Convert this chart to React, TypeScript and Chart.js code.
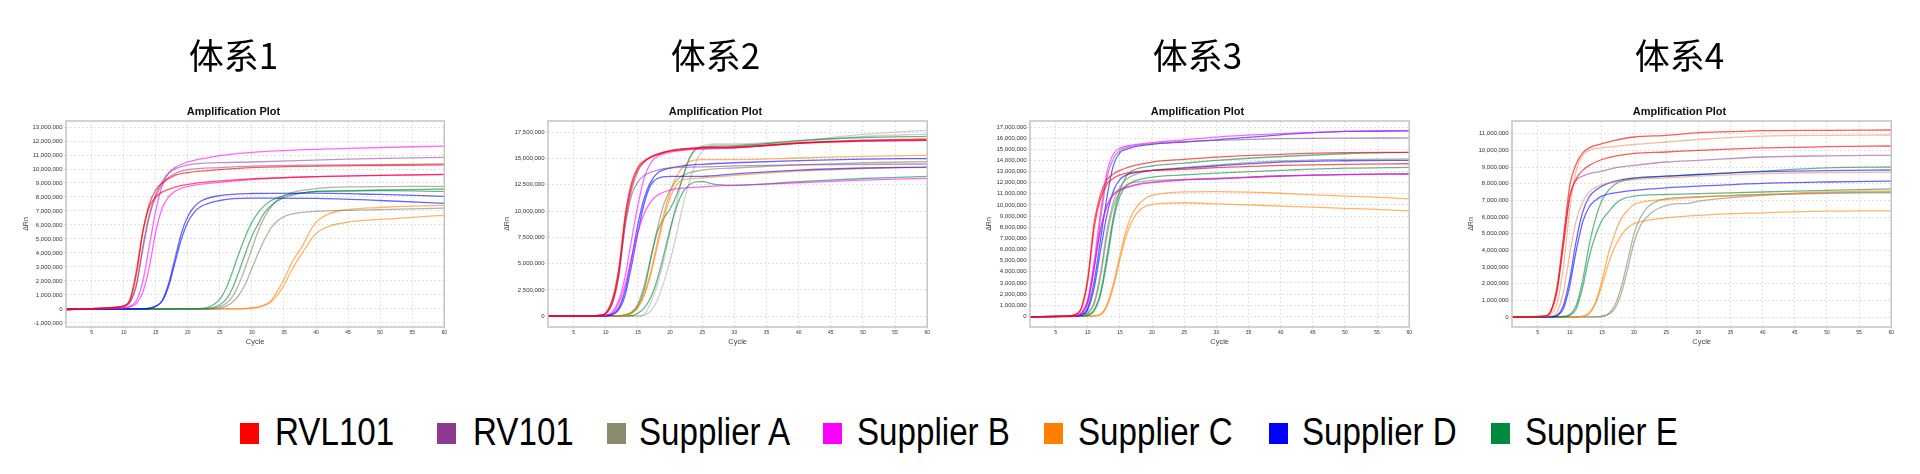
import React, { useEffect, useRef } from 'react';
import Chart from 'chart.js/auto';

type Curve = { s: number; c?: string; p: number[][] };

const titles = ['体系1', '体系2', '体系3', '体系4'];
const suppliers = ['RVL101', 'RV101', 'Supplier A', 'Supplier B', 'Supplier C', 'Supplier D', 'Supplier E'];
const swatches = ['#ff0000', '#8e3a8e', '#8a8a6c', '#ff00ff', '#ff8000', '#0000ff', '#008a40'];
const lineColors = [
  'rgba(255,0,0,0.65)',
  'rgba(140,60,140,0.55)',
  'rgba(130,130,105,0.6)',
  'rgba(255,0,255,0.6)',
  'rgba(255,130,0,0.6)',
  'rgba(0,0,255,0.6)',
  'rgba(0,136,64,0.6)',
];
const lightGray = 'rgba(150,150,150,0.45)';
const salmon = 'rgba(240,120,70,0.5)';

// y axis ranges, millions of ΔRn
const yMin = [-1.29, -1.02, -0.96, -0.6];
const yMax = [13.43, 18.57, 17.54, 11.76];
const yStep = [1, 2.5, 1, 1];

// curves: [cycle, ΔRn in millions]
const sys1: Curve[] = [
  { s: 0, p: [[1, -0.06], [5, 0.02], [8, 0.1], [10, 0.22], [11, 0.65], [12, 2.5], [13, 5.5], [14, 7.5], [15, 8.5], [16, 9.0], [18, 9.55], [20, 9.75], [25, 9.95], [30, 10.1], [40, 10.2], [50, 10.25], [60, 10.3]] },
  { s: 0, p: [[1, -0.06], [5, 0.02], [8, 0.1], [10, 0.22], [11, 0.7], [12, 2.8], [13, 5.6], [14, 7.3], [15, 8.0], [16, 8.35], [18, 8.7], [20, 8.9], [25, 9.15], [30, 9.3], [40, 9.45], [50, 9.55], [60, 9.62]] },
  { s: 1, p: [[1, -0.05], [5, 0.02], [8, 0.08], [10, 0.18], [11, 0.5], [12, 1.8], [13, 4.5], [14, 6.8], [15, 8.2], [16, 9.1], [17, 9.7], [20, 10.3], [25, 10.45], [30, 10.5], [45, 10.7], [60, 10.83]] },
  { s: 1, p: [[1, -0.05], [5, 0.02], [8, 0.08], [10, 0.18], [11, 0.5], [12, 1.7], [13, 4.3], [14, 6.6], [15, 8.0], [16, 8.9], [17, 9.4], [20, 9.95], [25, 10.1], [30, 10.2], [40, 10.28], [60, 10.36]] },
  { s: 3, p: [[1, -0.04], [8, 0.05], [10, 0.1], [11, 0.2], [12, 0.6], [13, 2.0], [14, 4.5], [15, 7.0], [16, 8.8], [17, 9.7], [18, 10.1], [20, 10.5], [25, 10.95], [30, 11.19], [45, 11.48], [60, 11.64]] },
  { s: 3, p: [[1, -0.04], [8, 0.04], [10, 0.08], [11, 0.15], [12, 0.4], [13, 1.2], [14, 3.0], [15, 5.5], [16, 7.2], [17, 8.0], [18, 8.4], [20, 8.75], [25, 9.05], [30, 9.25], [40, 9.45], [60, 9.6]] },
  { s: 5, p: [[1, -0.02], [13, 0.0], [14, 0.05], [15, 0.2], [16, 0.6], [17, 1.8], [18, 3.6], [19, 5.4], [20, 6.6], [21, 7.3], [22, 7.7], [25, 8.1], [30, 8.25], [40, 8.28], [50, 8.18], [60, 8.05]] },
  { s: 5, p: [[1, -0.02], [13, 0.0], [14, 0.05], [15, 0.18], [16, 0.55], [17, 1.6], [18, 3.3], [19, 5.0], [20, 6.2], [21, 6.9], [22, 7.3], [25, 7.75], [30, 7.92], [40, 7.9], [50, 7.75], [60, 7.55]] },
  { s: 6, p: [[1, -0.02], [20, 0.0], [22, 0.03], [23, 0.1], [24, 0.3], [25, 0.7], [26, 1.5], [27, 2.7], [28, 4.0], [29, 5.2], [30, 6.2], [31, 6.9], [32, 7.4], [33, 7.75], [35, 8.1], [38, 8.3], [40, 8.4], [45, 8.45], [50, 8.5], [60, 8.57]] },
  { s: 6, p: [[1, -0.02], [21, 0.0], [23, 0.03], [24, 0.1], [25, 0.3], [26, 0.7], [27, 1.5], [28, 2.7], [29, 4.0], [30, 5.2], [31, 6.1], [32, 6.9], [33, 7.4], [35, 7.95], [38, 8.3], [40, 8.4], [45, 8.42], [50, 8.45], [60, 8.4]] },
  { s: 2, p: [[1, -0.02], [22, 0.0], [24, 0.05], [25, 0.15], [26, 0.4], [27, 0.9], [28, 1.8], [29, 3.0], [30, 4.3], [31, 5.6], [32, 6.6], [33, 7.3], [34, 7.8], [35, 8.1], [37, 8.4], [40, 8.6], [45, 8.72], [60, 8.76]] },
  { s: 2, p: [[1, -0.02], [23, 0.0], [25, 0.05], [26, 0.2], [27, 0.5], [28, 1.0], [29, 1.8], [30, 2.9], [31, 4.0], [32, 5.0], [33, 5.8], [34, 6.3], [35, 6.6], [37, 6.85], [40, 6.97], [45, 7.05], [50, 7.1], [60, 7.21]] },
  { s: 4, p: [[1, -0.02], [28, 0.0], [30, 0.08], [31, 0.15], [32, 0.3], [33, 0.6], [34, 1.3], [35, 2.1], [36, 3.1], [37, 3.9], [38, 4.6], [39, 5.5], [40, 6.2], [42, 6.8], [45, 7.1], [50, 7.25], [55, 7.35], [60, 7.4]] },
  { s: 4, p: [[1, -0.02], [28, 0.0], [30, 0.06], [31, 0.12], [32, 0.25], [33, 0.5], [34, 1.0], [35, 1.7], [36, 2.6], [37, 3.4], [38, 4.1], [39, 4.8], [40, 5.4], [42, 5.9], [45, 6.2], [50, 6.4], [55, 6.55], [60, 6.69]] },
];

const sys2: Curve[] = [
  { s: 0, p: [[1, 0], [8, 0.02], [9, 0.1], [10, 0.35], [11, 1.6], [12, 4.5], [13, 9.6], [14, 12.7], [15, 14.2], [16, 14.8], [17, 15.15], [18, 15.4], [20, 15.75], [25, 16.05], [30, 16.1], [40, 16.5], [50, 16.75], [60, 16.86]] },
  { s: 0, p: [[1, 0], [8, 0.02], [9, 0.08], [10, 0.3], [11, 1.4], [12, 4.2], [13, 9.2], [14, 12.4], [15, 14.0], [16, 14.7], [17, 15.1], [18, 15.35], [20, 15.7], [25, 16.0], [30, 16.05], [40, 16.45], [50, 16.7], [60, 16.76]] },
  { s: 1, p: [[1, 0], [8, 0.02], [9, 0.08], [10, 0.25], [11, 1.2], [12, 3.8], [13, 8.5], [14, 11.5], [15, 12.8], [16, 13.4], [17, 13.7], [18, 13.9], [20, 14.1], [25, 14.2], [30, 14.3], [40, 14.4], [60, 14.48]] },
  { s: 1, p: [[1, 0], [8, 0.02], [9, 0.08], [10, 0.25], [11, 1.2], [12, 3.8], [13, 8.8], [14, 12.0], [15, 13.8], [16, 14.7], [17, 15.2], [18, 15.45], [20, 15.75], [25, 16.0], [30, 16.05], [40, 16.45], [50, 16.65], [60, 16.73]] },
  { s: 3, p: [[1, 0], [9, 0.03], [10, 0.1], [11, 0.4], [12, 1.5], [13, 3.8], [14, 7.3], [15, 10.6], [16, 13.2], [17, 14.6], [18, 15.2], [20, 15.6], [25, 15.9], [30, 16.0], [40, 16.45], [50, 16.65], [60, 16.73]] },
  { s: 3, p: [[1, 0], [9, 0.03], [10, 0.1], [11, 0.3], [12, 1.2], [13, 3.0], [14, 5.6], [15, 8.0], [16, 9.8], [17, 10.9], [18, 11.5], [20, 12.0], [25, 12.3], [30, 12.45], [40, 12.7], [50, 12.95], [60, 13.11]] },
  { s: 5, p: [[1, 0], [10, 0.05], [11, 0.2], [12, 0.8], [13, 2.5], [14, 5.5], [15, 8.8], [16, 11.3], [17, 12.8], [18, 13.6], [20, 14.1], [22, 14.3], [25, 14.45], [30, 14.6], [40, 14.8], [50, 14.95], [60, 15.0]] },
  { s: 5, p: [[1, 0], [10, 0.04], [11, 0.15], [12, 0.6], [13, 2.0], [14, 4.8], [15, 8.0], [16, 10.8], [17, 12.5], [18, 13.1], [20, 13.3], [25, 13.3], [30, 13.55], [40, 13.9], [50, 14.1], [60, 14.19]] },
  { s: 4, p: [[1, 0], [12, 0.05], [13, 0.1], [14, 0.3], [15, 0.9], [16, 2.2], [17, 4.3], [18, 7.0], [19, 9.7], [20, 11.8], [21, 13.3], [22, 14.2], [23, 14.7], [25, 14.9], [30, 14.9], [40, 15.05], [50, 15.2], [60, 15.3]] },
  { s: 4, p: [[1, 0], [12, 0.04], [13, 0.08], [14, 0.25], [15, 0.8], [16, 2.0], [17, 4.0], [18, 6.6], [19, 9.2], [20, 11.3], [21, 12.5], [22, 13.0], [25, 13.15], [30, 13.4], [40, 13.8], [50, 14.05], [60, 14.16]] },
  { s: 6, p: [[1, 0], [12, 0.03], [13, 0.1], [14, 0.35], [15, 1.0], [16, 2.6], [17, 5.5], [18, 8.0], [19, 9.3], [20, 10.2], [21, 11.5], [22, 13.3], [23, 15.0], [24, 15.9], [25, 16.1], [30, 16.2], [40, 16.7], [50, 17.0], [60, 17.11]] },
  { s: 6, p: [[1, 0], [14, 0.05], [15, 0.3], [16, 0.8], [17, 1.8], [18, 3.5], [19, 5.8], [20, 8.3], [21, 10.4], [22, 11.8], [23, 12.5], [24, 12.78], [25, 12.8], [27, 12.55], [30, 12.45], [35, 12.6], [40, 12.8], [50, 13.1], [60, 13.3]] },
  { s: 2, c: lightGray, p: [[1, 0], [15, 0.03], [16, 0.2], [17, 1.3], [18, 3.0], [19, 5.3], [20, 8.0], [21, 10.8], [22, 13.2], [23, 15.0], [24, 15.9], [25, 16.2], [27, 16.4], [30, 16.4], [40, 16.7], [50, 17.3], [60, 17.68]] },
  { s: 2, c: lightGray, p: [[1, 0], [15, 0.02], [16, 0.1], [17, 0.5], [18, 1.5], [19, 3.2], [20, 5.3], [21, 7.8], [22, 10.5], [23, 12.8], [24, 14.6], [25, 15.7], [27, 16.3], [30, 16.3], [40, 16.6], [50, 17.1], [60, 17.33]] },
  { s: 2, p: [[1, 0], [12, 0.05], [13, 0.15], [14, 0.4], [15, 1.2], [16, 3.0], [17, 5.6], [18, 8.3], [19, 10.6], [20, 12.0], [21, 12.9], [22, 13.4], [25, 13.9], [30, 14.1], [40, 14.4], [50, 14.6], [60, 14.7]] },
];

const sys3: Curve[] = [
  { s: 0, p: [[1, -0.05], [6, 0], [7, 0.02], [8, 0.15], [9, 0.8], [10, 3.5], [11, 8.5], [12, 11.0], [13, 12.3], [14, 12.8], [15, 13.1], [17, 13.5], [20, 13.85], [25, 14.1], [30, 14.3], [40, 14.55], [50, 14.7], [60, 14.73]] },
  { s: 0, p: [[1, -0.05], [6, 0], [7, 0.02], [8, 0.15], [9, 0.7], [10, 3.2], [11, 8.0], [12, 10.6], [13, 11.9], [14, 12.4], [15, 12.7], [17, 12.95], [20, 13.1], [25, 13.2], [30, 13.35], [40, 13.55], [50, 13.65], [60, 13.7]] },
  { s: 3, p: [[1, -0.05], [6, 0], [8, 0.05], [9, 0.3], [10, 1.5], [11, 5.0], [12, 9.5], [13, 13.0], [14, 14.6], [15, 15.1], [17, 15.4], [20, 15.6], [25, 15.85], [30, 16.1], [40, 16.4], [50, 16.6], [60, 16.68]] },
  { s: 3, p: [[1, -0.05], [6, 0], [8, 0.05], [9, 0.3], [10, 1.4], [11, 4.5], [12, 7.8], [13, 9.9], [14, 10.9], [15, 11.3], [16, 11.55], [18, 11.85], [20, 12.0], [25, 12.25], [30, 12.35], [40, 12.6], [50, 12.72], [60, 12.78]] },
  { s: 1, p: [[1, -0.05], [6, 0], [8, 0.05], [9, 0.25], [10, 1.2], [11, 4.3], [12, 8.8], [13, 12.5], [14, 14.2], [15, 14.9], [17, 15.3], [20, 15.5], [25, 15.7], [30, 15.8], [40, 15.95], [50, 16.0], [60, 16.02]] },
  { s: 1, p: [[1, -0.05], [6, 0], [8, 0.05], [9, 0.3], [10, 1.4], [11, 4.5], [12, 7.9], [13, 10.0], [14, 11.0], [15, 11.4], [16, 11.6], [18, 11.9], [20, 12.05], [25, 12.25], [30, 12.35], [40, 12.6], [50, 12.72], [60, 12.78]] },
  { s: 5, p: [[1, -0.05], [6, 0], [8, 0.03], [9, 0.15], [10, 0.8], [11, 3.2], [12, 7.0], [13, 10.8], [14, 13.6], [15, 14.7], [16, 15.0], [18, 15.3], [20, 15.45], [25, 15.65], [30, 15.85], [40, 16.3], [50, 16.6], [60, 16.65]] },
  { s: 5, p: [[1, -0.05], [6, 0], [8, 0.02], [9, 0.1], [10, 0.6], [11, 2.6], [12, 6.0], [13, 9.2], [14, 11.3], [15, 12.3], [16, 12.7], [18, 12.95], [20, 13.1], [25, 13.3], [30, 13.5], [40, 13.85], [50, 13.97], [60, 14.01]] },
  { s: 2, p: [[1, -0.05], [7, 0], [9, 0.05], [10, 0.3], [11, 1.3], [12, 4.0], [13, 7.8], [14, 10.3], [15, 11.6], [16, 12.3], [18, 12.85], [20, 13.1], [25, 13.35], [30, 13.6], [40, 13.95], [50, 14.1], [60, 14.13]] },
  { s: 2, p: [[1, -0.05], [7, 0], [9, 0.05], [10, 0.25], [11, 1.1], [12, 3.6], [13, 7.3], [14, 9.9], [15, 11.2], [16, 11.8], [18, 12.1], [20, 12.2], [25, 12.3], [30, 12.4], [40, 12.6], [50, 12.75], [60, 12.8]] },
  { s: 6, p: [[1, -0.05], [7, 0], [9, 0.02], [10, 0.1], [11, 0.6], [12, 2.2], [13, 5.5], [14, 9.0], [15, 11.3], [16, 12.6], [17, 13.1], [20, 13.5], [25, 13.75], [30, 14.0], [40, 14.35], [50, 14.6], [60, 14.73]] },
  { s: 6, p: [[1, -0.05], [8, 0], [10, 0.08], [11, 0.5], [12, 2.0], [13, 5.0], [14, 8.6], [15, 10.8], [16, 11.7], [17, 12.1], [20, 12.5], [25, 12.7], [30, 12.85], [40, 13.1], [50, 13.3], [60, 13.38]] },
  { s: 4, p: [[1, -0.05], [9, 0], [11, 0.05], [12, 0.2], [13, 1.1], [14, 3.0], [15, 5.5], [16, 7.8], [17, 9.3], [18, 10.1], [19, 10.6], [20, 10.85], [22, 11.05], [25, 11.18], [30, 11.2], [35, 11.15], [40, 11.05], [45, 10.9], [50, 10.8], [55, 10.7], [60, 10.54]] },
  { s: 4, p: [[1, -0.05], [9, 0], [11, 0.02], [12, 0.15], [13, 0.9], [14, 2.7], [15, 5.1], [16, 7.3], [17, 8.7], [18, 9.5], [19, 9.9], [20, 10.05], [22, 10.15], [25, 10.2], [30, 10.1], [35, 10.0], [40, 9.9], [45, 9.8], [50, 9.7], [55, 9.6], [60, 9.46]] },
];

const sys4: Curve[] = [
  { s: 0, p: [[1, 0], [6, 0.05], [7, 0.35], [8, 1.8], [9, 4.8], [10, 7.9], [11, 9.2], [12, 9.85], [13, 10.15], [15, 10.4], [17, 10.6], [20, 10.8], [25, 10.9], [30, 11.06], [35, 11.12], [40, 11.18], [50, 11.2], [60, 11.22]] },
  { s: 0, p: [[1, 0], [6, 0.05], [7, 0.3], [8, 1.6], [9, 4.3], [10, 7.2], [11, 8.3], [12, 8.8], [13, 9.1], [15, 9.45], [17, 9.65], [20, 9.82], [25, 9.9], [30, 10.0], [40, 10.15], [50, 10.22], [60, 10.26]] },
  { s: 4, c: salmon, p: [[1, 0], [6, 0.02], [7, 0.15], [8, 0.8], [9, 3.0], [10, 6.5], [11, 8.8], [12, 9.7], [13, 10.0], [15, 10.15], [20, 10.35], [25, 10.5], [30, 10.65], [40, 10.85], [50, 10.9], [60, 10.92]] },
  { s: 4, c: salmon, p: [[1, 0], [7, 0.05], [8, 0.3], [9, 1.5], [10, 3.8], [11, 5.8], [12, 6.9], [13, 7.5], [14, 7.8], [15, 7.95], [17, 8.1], [20, 8.25], [25, 8.35], [30, 8.45], [40, 8.6], [50, 8.67], [60, 8.69]] },
  { s: 1, p: [[1, 0], [6, 0.03], [7, 0.3], [8, 1.5], [9, 4.5], [10, 7.3], [11, 8.2], [12, 8.45], [13, 8.6], [15, 8.75], [17, 8.95], [20, 9.1], [25, 9.3], [30, 9.4], [40, 9.6], [50, 9.67], [60, 9.7]] },
  { s: 5, p: [[1, 0], [7, 0.02], [8, 0.1], [9, 0.7], [10, 2.3], [11, 4.6], [12, 6.3], [13, 7.2], [14, 7.6], [15, 7.85], [17, 8.15], [20, 8.35], [25, 8.45], [30, 8.55], [40, 8.72], [50, 8.78], [60, 8.82]] },
  { s: 5, p: [[1, 0], [7, 0.01], [8, 0.08], [9, 0.5], [10, 1.9], [11, 4.0], [12, 5.7], [13, 6.6], [14, 7.0], [15, 7.25], [17, 7.45], [20, 7.6], [25, 7.75], [30, 7.85], [40, 8.02], [50, 8.1], [60, 8.15]] },
  { s: 6, p: [[1, 0], [9, 0.03], [10, 0.15], [11, 0.7], [12, 2.2], [13, 4.3], [14, 5.9], [15, 7.0], [16, 7.6], [17, 7.95], [18, 8.15], [19, 8.25], [20, 8.3], [25, 8.45], [30, 8.55], [40, 8.75], [50, 8.95], [60, 9.0]] },
  { s: 6, p: [[1, 0], [9, 0.02], [10, 0.1], [11, 0.5], [12, 1.8], [13, 3.6], [14, 4.9], [15, 5.8], [16, 6.3], [17, 6.75], [18, 7.05], [20, 7.25], [25, 7.35], [30, 7.4], [40, 7.5], [50, 7.6], [60, 7.69]] },
  { s: 4, p: [[1, 0], [11, 0.01], [12, 0.05], [13, 0.25], [14, 0.9], [15, 2.2], [16, 3.8], [17, 5.0], [18, 5.9], [19, 6.4], [20, 6.75], [22, 6.95], [25, 7.05], [30, 7.2], [40, 7.35], [50, 7.5], [60, 7.57]] },
  { s: 4, p: [[1, 0], [11, 0.01], [12, 0.04], [13, 0.2], [14, 0.8], [15, 1.9], [16, 3.2], [17, 4.2], [18, 4.9], [19, 5.35], [20, 5.6], [22, 5.8], [25, 5.95], [30, 6.1], [40, 6.25], [50, 6.35], [60, 6.37]] },
  { s: 2, p: [[1, 0], [14, 0.01], [15, 0.05], [16, 0.2], [17, 0.7], [18, 1.8], [19, 3.4], [20, 5.0], [21, 6.0], [22, 6.55], [23, 6.85], [25, 7.1], [30, 7.2], [40, 7.35], [50, 7.42], [60, 7.45]] },
  { s: 2, p: [[1, 0], [14, 0.01], [15, 0.03], [16, 0.15], [17, 0.5], [18, 1.4], [19, 2.9], [20, 4.5], [21, 5.5], [22, 6.0], [23, 6.35], [25, 6.7], [27, 6.8], [28, 6.8], [30, 6.95], [40, 7.3], [50, 7.45], [60, 7.5]] },
];

const systems = [sys1, sys2, sys3, sys4];

// layout of the four canvases (page pixels)
const frames = [
  { left: 19, width: 429, axis: 47 },
  { left: 500, width: 431, axis: 48 },
  { left: 982, width: 431, axis: 48 },
  { left: 1464, width: 431, axis: 48 },
];
const legendBoxX = [240, 437, 607, 823, 1044, 1269, 1491];
const legendTextX = [275, 473, 639, 857, 1078, 1302, 1525];

const sans = '"Liberation Sans", Arial, sans-serif';

const plotFrame = {
  id: 'plotFrame',
  afterDatasetsDraw(chart: any) {
    const { ctx, chartArea: a } = chart;
    ctx.save();
    ctx.strokeStyle = '#c4c4c4';
    ctx.lineWidth = 1.5;
    ctx.strokeRect(a.left, a.top, a.right - a.left, a.bottom - a.top);
    ctx.restore();
  },
};

const fmt = (v: number) => Math.round(v * 1e6).toLocaleString('en-US');

const Panel: React.FC<{ idx: number }> = ({ idx }) => {
  const ref = useRef<HTMLCanvasElement>(null);
  const chartRef = useRef<Chart | null>(null);
  const f = frames[idx];

  useEffect(() => {
    if (chartRef.current) chartRef.current.destroy();
    const ctx = ref.current?.getContext('2d');
    if (!ctx) return;
    // @ts-ignore
    chartRef.current = new Chart(ctx, {
      type: 'line',
      data: {
        datasets: systems[idx].map((cv) => ({
          label: suppliers[cv.s],
          data: cv.p.map(([x, y]) => ({ x, y })),
          borderColor: cv.c ?? lineColors[cv.s],
          borderWidth: 1.3,
          pointRadius: 0,
          fill: false,
          cubicInterpolationMode: 'monotone',
        })),
      },
      plugins: [plotFrame],
      options: {
        animation: false,
        responsive: false,
        layout: { padding: 0 },
        plugins: {
          legend: { display: false },
          tooltip: { enabled: false },
          title: {
            display: true,
            text: titles[idx],
            color: '#000',
            font: { family: '"Noto Sans CJK SC", sans-serif', size: 35, weight: 'normal' },
            padding: { top: 4.6, bottom: 28.8 },
          },
          subtitle: {
            display: true,
            text: 'Amplification Plot',
            color: '#111',
            font: { family: sans, size: 11, weight: 'bold' },
            padding: { top: 0, bottom: 2.4 },
          },
        },
        scales: {
          x: {
            type: 'linear',
            min: 1,
            max: 60,
            ticks: { stepSize: 5, includeBounds: false, autoSkip: false, maxRotation: 0, padding: 1, color: '#333', font: { family: sans, size: 5 } },
            grid: { color: '#e0e0e0', tickLength: 2 },
            border: { display: false, dash: [2, 2] },
            title: { display: true, text: 'Cycle', color: '#444', font: { family: sans, size: 7.5 }, padding: { top: 0, bottom: 3.2 } },
            afterFit: (s: any) => { s.height = 23; },
          },
          y: {
            min: yMin[idx],
            max: yMax[idx],
            ticks: { stepSize: yStep[idx], includeBounds: false, padding: 1.5, color: '#333', font: { family: sans, size: 6 }, callback: (v: any) => fmt(Number(v)) },
            grid: { color: '#e0e0e0', tickLength: 2 },
            border: { display: false, dash: [2, 2] },
            title: { display: true, text: 'ΔRn', color: '#444', font: { family: sans, size: 7 }, padding: { top: 2.8, bottom: 0 } },
            afterFit: (s: any) => { s.width = f.axis; },
          },
        },
      },
    });
    return () => {
      if (chartRef.current) {
        chartRef.current.destroy();
        chartRef.current = null;
      }
    };
  }, [idx]);

  return (
    <canvas
      ref={ref}
      width={f.width}
      height={320}
      style={{ position: 'absolute', left: f.left, top: 30, width: f.width, height: 320 }}
    />
  );
};

const App: React.FC = () => (
  <div style={{ position: 'absolute', left: 0, top: 0, width: 1920, height: 474, background: '#fff', overflow: 'hidden' }}>
    {titles.map((_, i) => <Panel key={i} idx={i} />)}
    {suppliers.map((name, i) => (
      <React.Fragment key={name}>
        <div style={{ position: 'absolute', left: legendBoxX[i], top: 423, width: 19, height: 21, background: swatches[i] }} />
        <div
          style={{
            position: 'absolute',
            left: legendTextX[i],
            top: 412,
            fontFamily: sans,
            fontSize: 39,
            lineHeight: '39px',
            whiteSpace: 'nowrap',
            color: '#000',
            transform: 'scaleX(0.85)',
            transformOrigin: 'left center',
          }}
        >
          {name}
        </div>
      </React.Fragment>
    ))}
  </div>
);

export default App;
